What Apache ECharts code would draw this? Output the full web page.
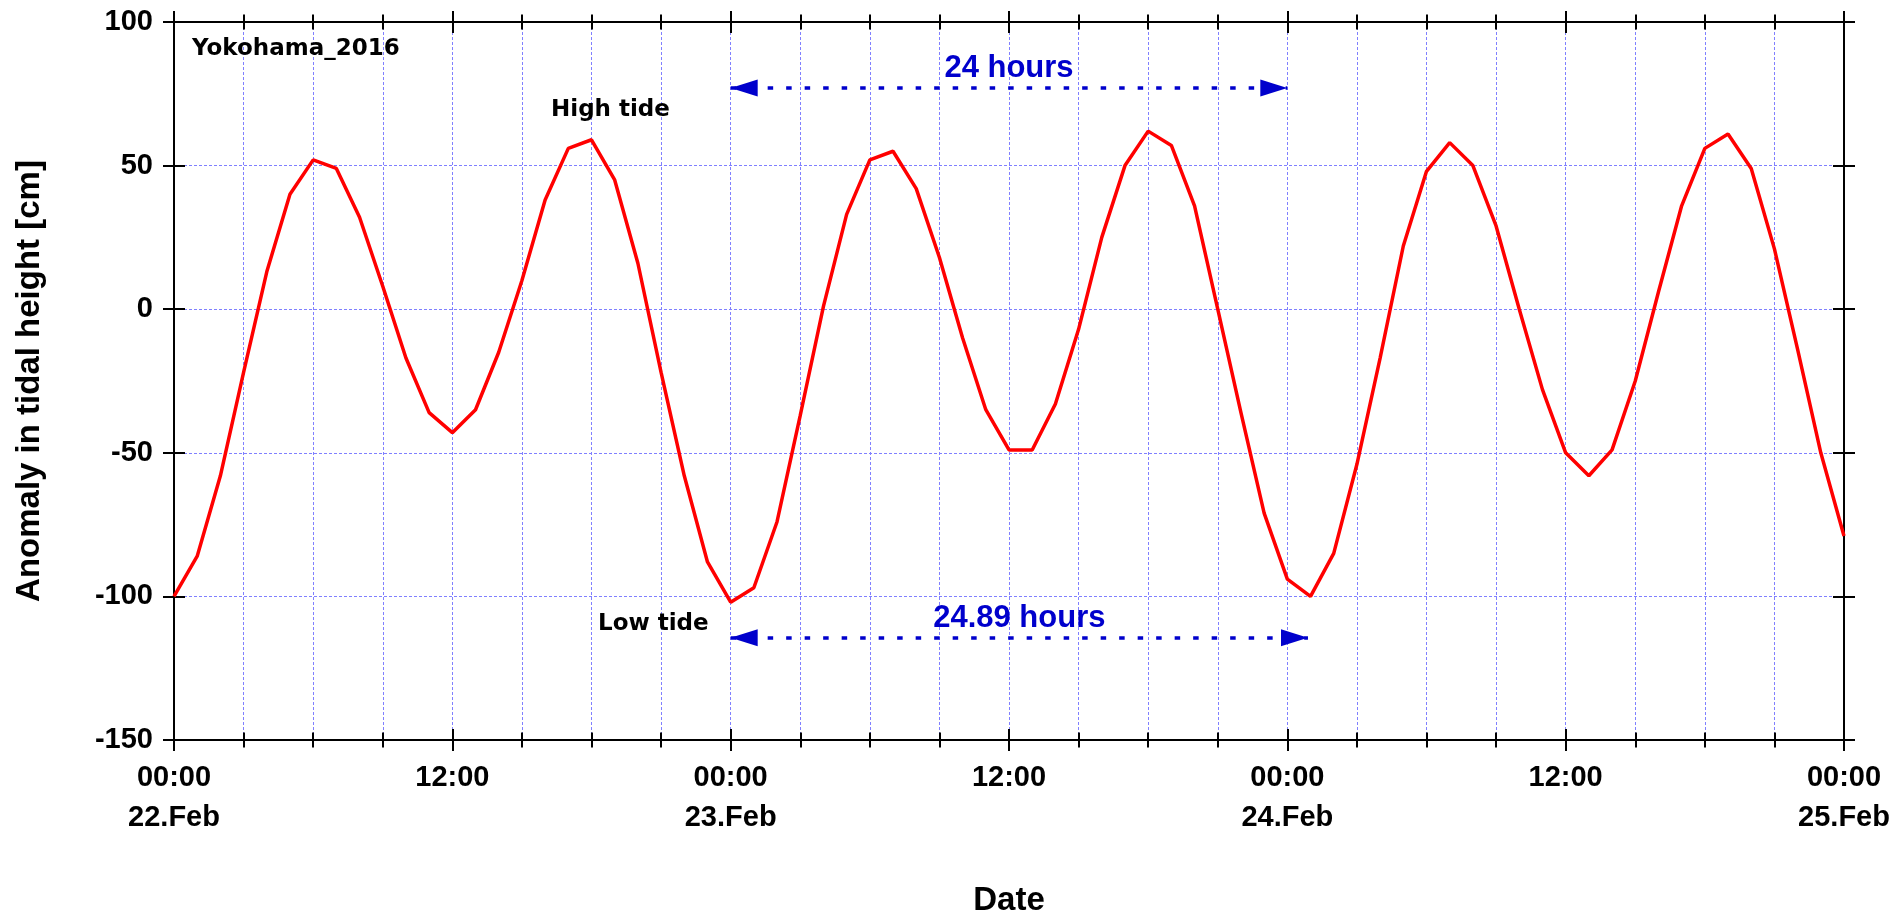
<!DOCTYPE html>
<html>
<head>
<meta charset="utf-8">
<script src="https://cdn.jsdelivr.net/npm/echarts@6/dist/echarts.min.js"></script>
<style>
  html, body { margin: 0; padding: 0; background: #ffffff; }
  #chart { width: 1903px; height: 919px; }
</style>
</head>
<body>
<div id="chart"></div>
<script>
// Hourly tidal height anomaly at Yokohama, from 22 Feb 00:00 to 25 Feb 00:00 (cm)
const tideCm = [
  -100, -86, -58, -22, 13, 40, 52, 49, 32, 8,
  -17, -36, -43, -35, -15, 10, 38, 56, 59, 45,
  16, -22, -58, -88, -102, -97, -74, -37, 1, 33,
  52, 55, 42, 18, -10, -35, -49, -49, -33, -7,
  25, 50, 62, 57, 36, 0, -36, -71, -94, -100,
  -85, -54, -17, 22, 48, 58, 50, 29, 0, -28,
  -50, -58, -49, -25, 6, 36, 56, 61, 49, 21,
  -14, -50, -79
];

// Tick labels along the time axis, one every 12 hours
const timeTickLabels = [
  '00:00\n22.Feb', '12:00', '00:00\n23.Feb', '12:00',
  '00:00\n24.Feb', '12:00', '00:00\n25.Feb'
];

// Period annotations: [start hour, end hour, height (cm), text]
const solarDay = [24, 48, 77, '24 hours'];
const lunarDay = [24, 48.89, -114.4, '24.89 hours'];

const FONT = '"Liberation Sans", Arial, sans-serif';
const NOTE_FONT = 'bold 23px "DejaVu Sans", sans-serif';
const INK = '#000000';
const BLUE = '#0000cc';
const GRID_LINE = { color: '#8080ff', width: 1, type: [3, 2] };

const seriesData = tideCm.map((v, hour) => [hour, v]);

const gridRect = {
  left: 174, right: 59, top: 22, bottom: 179,
  containLabel: false, outerBoundsMode: 'none'
};

function xAxisDef(gridIndex, position, inside, withLabels) {
  return {
    type: 'value', gridIndex, position,
    min: 0, max: 72, interval: 12,
    axisLine: { show: true, onZero: false, lineStyle: { color: INK, width: 2 } },
    axisTick: { show: true, inside, length: 11, lineStyle: { color: INK, width: 2 } },
    minorTick: { show: true, splitNumber: 4, length: 7.5, lineStyle: { color: INK, width: 2 } },
    axisLabel: withLabels ? {
      show: true, margin: 18, color: INK, fontFamily: FONT, fontWeight: 'bold',
      fontSize: 29, lineHeight: 40,
      formatter: (v) => timeTickLabels[Math.round(v / 12)]
    } : { show: false },
    splitLine: withLabels ? { show: true, lineStyle: GRID_LINE } : { show: false },
    minorSplitLine: withLabels ? { show: true, lineStyle: GRID_LINE } : { show: false },
    name: withLabels ? 'Date' : '',
    nameLocation: 'middle', nameGap: 144,
    nameTextStyle: { color: INK, fontFamily: FONT, fontWeight: 'bold', fontSize: 33 }
  };
}

function yAxisDef(gridIndex, position, inside, withLabels) {
  return {
    type: 'value', gridIndex, position,
    min: -150, max: 100, interval: 50,
    axisLine: { show: true, onZero: false, lineStyle: { color: INK, width: 2 } },
    axisTick: { show: true, inside, length: 11, lineStyle: { color: INK, width: 2 } },
    axisLabel: withLabels ? {
      show: true, margin: 21, color: INK, fontFamily: FONT, fontWeight: 'bold', fontSize: 29
    } : { show: false },
    splitLine: withLabels ? { show: true, lineStyle: GRID_LINE } : { show: false },
    name: withLabels ? 'Anomaly in tidal height [cm]' : '',
    nameLocation: 'middle', nameGap: 128,
    nameTextStyle: { color: INK, fontFamily: FONT, fontWeight: 'bold', fontSize: 33 }
  };
}

function periodArrow(spec) {
  return [
    { coord: [spec[0], spec[2]], label: { formatter: spec[3] } },
    { coord: [spec[1], spec[2]] }
  ];
}

const chart = echarts.init(document.getElementById('chart'), null, { renderer: 'canvas' });

chart.setOption({
  backgroundColor: '#ffffff',
  animation: false,
  // Four identical grids so that every tick can cross its axis line
  grid: [
    Object.assign({}, gridRect),
    Object.assign({}, gridRect),
    Object.assign({}, gridRect),
    Object.assign({}, gridRect)
  ],
  xAxis: [
    xAxisDef(0, 'bottom', false, true),
    xAxisDef(1, 'bottom', true, false),
    xAxisDef(2, 'top', false, false),
    xAxisDef(3, 'top', true, false)
  ],
  yAxis: [
    yAxisDef(0, 'left', false, true),
    yAxisDef(1, 'left', true, false),
    yAxisDef(2, 'right', false, false),
    yAxisDef(3, 'right', true, false)
  ],
  series: [{
    type: 'line',
    xAxisIndex: 0, yAxisIndex: 0,
    data: seriesData,
    showSymbol: false,
    symbol: 'none',
    lineStyle: { color: '#ff0000', width: 3.5 },
    z: 5,
    markLine: {
      silent: true,
      symbol: ['triangle', 'triangle'],
      symbolSize: [17, 27],
      symbolOffset: [[0, 13.5], [0, 13.5]],
      lineStyle: { color: BLUE, width: 3.5, type: [5.5, 13] },
      itemStyle: { color: BLUE },
      label: {
        show: true, position: 'middle', distance: 4,
        color: BLUE, fontFamily: FONT, fontWeight: 'bold', fontSize: 31
      },
      data: [periodArrow(solarDay), periodArrow(lunarDay)]
    }
  }],
  graphic: [
    {
      type: 'text', z: 10,
      style: { x: 192, y: 49.5, text: 'Yokohama_2016', fill: INK,
        font: NOTE_FONT, align: 'left', verticalAlign: 'middle' }
    },
    {
      type: 'text', z: 10,
      style: { x: 551, y: 110.5, text: 'High tide', fill: INK,
        font: NOTE_FONT, align: 'left', verticalAlign: 'middle' }
    },
    {
      type: 'text', z: 10,
      style: { x: 598, y: 624, text: 'Low tide', fill: INK,
        font: NOTE_FONT, align: 'left', verticalAlign: 'middle' }
    }
  ]
});
</script>
</body>
</html>
